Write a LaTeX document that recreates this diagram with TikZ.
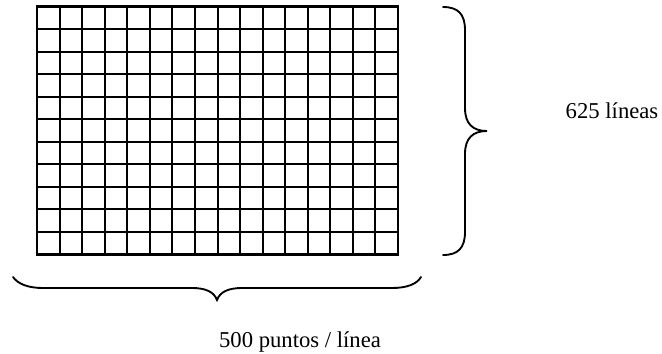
\documentclass[tikz,border=0pt]{standalone}
\usepackage{fontspec}
\setmainfont{Liberation Serif}
\begin{document}
\begin{tikzpicture}[x=0.75pt,y=-0.75pt,
  gridline/.style={line width=1.5pt,black},
  gridframe/.style={line width=1.9pt,black},
  bracepath/.style={line width=1.4pt,black,line cap=round},
  lbl/.style={font=\fontsize{17}{19}\selectfont,anchor=base,inner sep=0pt}]
\useasboundingbox (0,0) rectangle (662,354);
% grid
\foreach \i in {1,...,15}
  \draw[gridline] ({37+\i*361/16},6.5) -- ({37+\i*361/16},254.5);
\foreach \j in {1,...,10}
  \draw[gridline] (37,{6.5+\j*248/11}) -- (398,{6.5+\j*248/11});
\draw[gridframe] (37,6.5) rectangle (398,254.5);
% right brace
\draw[bracepath] (443,7) .. controls (458,7) and (465,14) .. (465,30)
  -- (465,108) .. controls (465,124) and (473,131) .. (487,131)
  .. controls (473,131) and (465,138) .. (465,154)
  -- (465,232) .. controls (465,248) and (458,255) .. (443,255);
% bottom brace
\draw[bracepath] (13,277) .. controls (18,284) and (28,288) .. (43,288)
  -- (192,288) .. controls (206,288) and (214,292) .. (217,300)
  .. controls (220,292) and (228,288) .. (242,288)
  -- (392,288) .. controls (407,288) and (417,284) .. (421,277);
\node[lbl] (lines) at (612,118) {625 líneas};
\node[lbl] (points) at (300,347) {500 puntos / línea};
\end{tikzpicture}
\end{document}
